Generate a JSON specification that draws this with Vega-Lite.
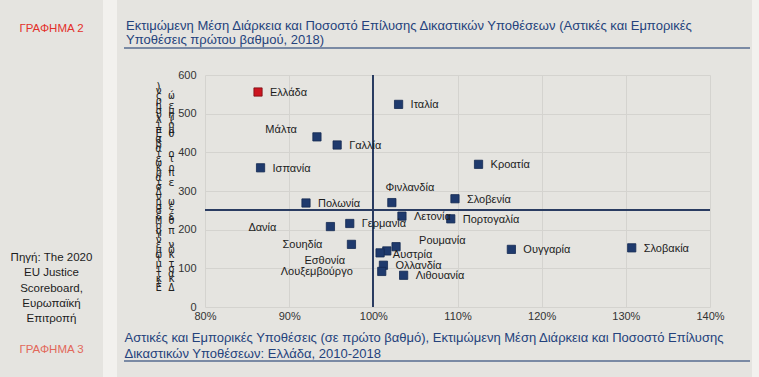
{
  "$schema": "https://vega.github.io/schema/vega-lite/v6.json",
  "background": "#e5e4e0",
  "padding": 0,
  "spacing": 7,
  "config": {
    "view": {"stroke": null},
    "font": "Liberation Sans",
    "axis": {"labelFont": "Liberation Sans", "titleFont": "Liberation Sans"}
  },
  "datasets": {
    "countries": [
      {"country": "Ελλάδα", "rate": 0.863, "days": 556, "lab": "r"},
      {"country": "Ιταλία", "rate": 1.030, "days": 524, "lab": "r"},
      {"country": "Μάλτα", "rate": 0.933, "days": 440, "lab": "lt"},
      {"country": "Γαλλία", "rate": 0.957, "days": 419, "lab": "r"},
      {"country": "Ισπανία", "rate": 0.866, "days": 360, "lab": "r"},
      {"country": "Κροατία", "rate": 1.125, "days": 369, "lab": "r"},
      {"country": "Φινλανδία", "rate": 1.022, "days": 270, "lab": "t"},
      {"country": "Σλοβενία", "rate": 1.097, "days": 280, "lab": "r"},
      {"country": "Πολωνία", "rate": 0.920, "days": 269, "lab": "r"},
      {"country": "Λετονία", "rate": 1.034, "days": 235, "lab": "r"},
      {"country": "Πορτογαλία", "rate": 1.092, "days": 228, "lab": "r"},
      {"country": "Γερμανία", "rate": 0.972, "days": 216, "lab": "r"},
      {"country": "Δανία", "rate": 0.949, "days": 208, "lab": "fl"},
      {"country": "Σουηδία", "rate": 0.974, "days": 162, "lab": "l"},
      {"country": "Ρουμανία", "rate": 1.027, "days": 156, "lab": "rt"},
      {"country": "Ουγγαρία", "rate": 1.164, "days": 149, "lab": "r"},
      {"country": "Σλοβακία", "rate": 1.307, "days": 153, "lab": "r"},
      {"country": "Αυστρία", "rate": 1.016, "days": 145, "lab": "rb"},
      {"country": "Εσθονία", "rate": 1.008, "days": 140, "lab": "lb"},
      {"country": "Ολλανδία", "rate": 1.012, "days": 108, "lab": "r"},
      {"country": "Λουξεμβούργο", "rate": 1.010, "days": 92, "lab": "l"},
      {"country": "Λιθουανία", "rate": 1.036, "days": 82, "lab": "r"}
    ],
    "leftText": [
      {"slot": 0, "text": "ΓΡΑΦΗΜΑ 2", "kind": "current"},
      {"slot": 15, "text": "Πηγή: The 2020", "kind": "source"},
      {"slot": 16, "text": "EU Justice", "kind": "source"},
      {"slot": 17, "text": "Scoreboard,", "kind": "source"},
      {"slot": 18, "text": "Ευρωπαϊκή", "kind": "source"},
      {"slot": 19, "text": "Επιτροπή", "kind": "source"},
      {"slot": 21, "text": "ΓΡΑΦΗΜΑ 3", "kind": "next"}
    ],
    "none": []
  },
  "hconcat": [
    {
      "spacing": 0,
      "hconcat": [
        {
          "width": 103,
          "height": 377,
          "data": {"name": "leftText"},
          "mark": {"type": "text", "font": "Liberation Sans", "fontSize": 11.5, "baseline": "middle", "align": "center"},
          "encoding": {
            "y": {"field": "slot", "type": "quantitative", "scale": {"domain": [-1.9, 22.79], "reverse": true, "zero": false, "nice": false}, "axis": null},
            "text": {"field": "text"},
            "color": {"field": "kind", "type": "nominal", "scale": {"domain": ["current", "source", "next"], "range": ["#e3302b", "#1c1c1c", "#e2685a"]}, "legend": null}
          }
        },
        {
          "width": 14,
          "height": 377,
          "data": {"name": "none"},
          "mark": {"type": "rule"},
          "encoding": {},
          "view": {"fill": "#f2f1ee", "stroke": null}
        }
      ]
    },
    {
      "spacing": 2,
      "hconcat": [
        {
          "spacing": 0,
          "vconcat": [
            {
              "width": 626,
              "height": 1,
              "data": {"name": "none"},
              "mark": {"type": "rule"},
              "encoding": {},
              "title": {
                "text": ["Εκτιμώμενη Μέση Διάρκεια και Ποσοστό Επίλυσης Δικαστικών Υποθέσεων (Αστικές και Εμπορικές", "Υποθέσεις πρώτου βαθμού, 2018)"],
                "orient": "bottom",
                "anchor": "start",
                "frame": "group",
                "font": "Liberation Sans",
                "fontSize": 13,
                "fontWeight": "normal",
                "color": "#24427c",
                "lineHeight": 14,
                "offset": 19,
                "dx": 2
              }
            },
            {
              "width": 626,
              "height": 2,
              "data": {"name": "none"},
              "mark": {"type": "rule"},
              "encoding": {},
              "view": {"fill": "#7a8aa4", "stroke": null}
            },
            {
              "width": 586,
              "height": 232,
              "data": {"name": "countries"},
              "title": {"text": "\u00a0", "fontSize": 10, "offset": 10, "anchor": "start"},
              "layer": [
                {
                  "mark": {"type": "square", "size": 68, "filled": true, "opacity": 1, "strokeWidth": 0.8},
                  "encoding": {
                    "x": {
                      "field": "rate",
                      "type": "quantitative",
                      "scale": {"domain": [0.8, 1.4], "range": [81, 586], "nice": false, "zero": false},
                      "axis": {
                        "values": [0.8, 0.9, 1.0, 1.1, 1.2, 1.3, 1.4],
                        "format": ".0%",
                        "grid": true,
                        "gridColor": "#d4d3cf",
                        "domain": false,
                        "ticks": false,
                        "labelFlush": false,
                        "labelOverlap": false,
                        "labelPadding": 3,
                        "labelFontSize": 11,
                        "labelColor": "#333333",
                        "title": ["Αστικές και Εμπορικές Υποθέσεις (σε πρώτο βαθμό), Εκτιμώμενη Μέση Διάρκεια και Ποσοστό Επίλυσης", "Δικαστικών Υποθέσεων: Ελλάδα, 2010-2018"],
                        "titleX": 0,
                        "titleY": 24,
                        "titleAlign": "left",
                        "titleAnchor": "start",
                        "titleBaseline": "top",
                        "titleFontSize": 13,
                        "titleFontWeight": "normal",
                        "titleColor": "#24427c",
                        "titleLineHeight": 16
                      }
                    },
                    "y": {
                      "field": "days",
                      "type": "quantitative",
                      "scale": {"domain": [0, 600], "nice": false, "zero": false},
                      "axis": {
                        "values": [0, 100, 200, 300, 400, 500, 600],
                        "tickCount": 7,
                        "offset": -81,
                        "grid": true,
                        "gridColor": "#d4d3cf",
                        "domain": false,
                        "ticks": false,
                        "labelOverlap": false,
                        "labelPadding": 9,
                        "labelFontSize": 11,
                        "labelColor": "#333333",
                        "title": ["\u00a0\u00a0)", "\u00a0\u00a0ν", "ς\u00a0ώ", "\u00a0\u00a0ρ", "η\u00a0ε", "σ\u00a0μ", "υ\u00a0η", "λ\u00a0(", "\u00a0", "ί\u00a0ό", "π\u00a0μ", "Ε\u00a0θ", "\u00a0\u00a0α", "\u00a0\u00a0β", "α", "ι\u00a0ο", "ε\u00a0τ", "\u00a0\u00a0ώ", "κ\u00a0ρ", "ρ\u00a0π", "ά", "ι\u00a0ε", "\u00a0\u00a0σ", "Δ", "\u00a0\u00a0ν", "η\u00a0ω", "σ\u00a0ε", "\u00a0\u00a0σ", "έ\u00a0έ", "Μ\u00a0θ", "\u00a0\u00a0ο", "η\u00a0π", "\u00a0\u00a0Υ", "ν", "ε\u00a0ν", "μ\u00a0ώ", "ώ\u00a0κ", "\u00a0\u00a0ι", "μ\u00a0τ", "ι\u00a0σ", "τ\u00a0α", "κ\u00a0κ", "\u00a0\u00a0ι", "Ε\u00a0Δ"],
                        "titleAngle": 0,
                        "titleX": -50,
                        "titleY": 6,
                        "titleAlign": "left",
                        "titleBaseline": "top",
                        "titleFont": "DejaVu Sans Mono",
                        "titleFontSize": 10.5,
                        "titleFontWeight": "normal",
                        "titleColor": "#222222",
                        "titleLineHeight": 4.8
                      }
                    },
                    "color": {"condition": {"test": "datum.country === 'Ελλάδα'", "value": "#cc1520"}, "value": "#1f3a6d"},
                    "stroke": {"condition": {"test": "datum.country === 'Ελλάδα'", "value": "#7a0d12"}, "value": "#142a52"}
                  }
                },
                {
                  "mark": {"type": "rule", "color": "#2b3d62", "strokeWidth": 1.3},
                  "encoding": {"x": {"datum": 1.0}}
                },
                {
                  "mark": {"type": "rule", "color": "#2b3d62", "strokeWidth": 1.3},
                  "encoding": {"x": {"datum": 0.8}, "x2": {"datum": 1.4}, "y": {"datum": 251}}
                },
                {
                  "transform": [{"filter": "datum.lab === 'r'"}],
                  "mark": {"type": "text", "align": "left", "baseline": "middle", "dx": 12, "dy": 1, "fontSize": 11, "font": "Liberation Sans", "color": "#1c1c1c"},
                  "encoding": {"x": {"field": "rate", "type": "quantitative"}, "y": {"field": "days", "type": "quantitative"}, "text": {"field": "country"}}
                },
                {
                  "transform": [{"filter": "datum.lab === 'l'"}],
                  "mark": {"type": "text", "align": "right", "baseline": "middle", "dx": -29, "dy": 1, "fontSize": 11, "font": "Liberation Sans", "color": "#1c1c1c"},
                  "encoding": {"x": {"field": "rate", "type": "quantitative"}, "y": {"field": "days", "type": "quantitative"}, "text": {"field": "country"}}
                },
                {
                  "transform": [{"filter": "datum.lab === 'lb'"}],
                  "mark": {"type": "text", "align": "right", "baseline": "middle", "dx": -35, "dy": 8, "fontSize": 11, "font": "Liberation Sans", "color": "#1c1c1c"},
                  "encoding": {"x": {"field": "rate", "type": "quantitative"}, "y": {"field": "days", "type": "quantitative"}, "text": {"field": "country"}}
                },
                {
                  "transform": [{"filter": "datum.lab === 'fl'"}],
                  "mark": {"type": "text", "align": "right", "baseline": "middle", "dx": -54, "dy": 1, "fontSize": 11, "font": "Liberation Sans", "color": "#1c1c1c"},
                  "encoding": {"x": {"field": "rate", "type": "quantitative"}, "y": {"field": "days", "type": "quantitative"}, "text": {"field": "country"}}
                },
                {
                  "transform": [{"filter": "datum.lab === 'lt'"}],
                  "mark": {"type": "text", "align": "right", "baseline": "middle", "dx": -20, "dy": -7, "fontSize": 11, "font": "Liberation Sans", "color": "#1c1c1c"},
                  "encoding": {"x": {"field": "rate", "type": "quantitative"}, "y": {"field": "days", "type": "quantitative"}, "text": {"field": "country"}}
                },
                {
                  "transform": [{"filter": "datum.lab === 't'"}],
                  "mark": {"type": "text", "align": "center", "baseline": "middle", "dx": 18, "dy": -15, "fontSize": 11, "font": "Liberation Sans", "color": "#1c1c1c"},
                  "encoding": {"x": {"field": "rate", "type": "quantitative"}, "y": {"field": "days", "type": "quantitative"}, "text": {"field": "country"}}
                },
                {
                  "transform": [{"filter": "datum.lab === 'rt'"}],
                  "mark": {"type": "text", "align": "left", "baseline": "middle", "dx": 23, "dy": -6, "fontSize": 11, "font": "Liberation Sans", "color": "#1c1c1c"},
                  "encoding": {"x": {"field": "rate", "type": "quantitative"}, "y": {"field": "days", "type": "quantitative"}, "text": {"field": "country"}}
                },
                {
                  "transform": [{"filter": "datum.lab === 'rb'"}],
                  "mark": {"type": "text", "align": "left", "baseline": "middle", "dx": 6, "dy": 4, "fontSize": 11, "font": "Liberation Sans", "color": "#1c1c1c"},
                  "encoding": {"x": {"field": "rate", "type": "quantitative"}, "y": {"field": "days", "type": "quantitative"}, "text": {"field": "country"}}
                }
              ]
            },
            {
              "width": 626,
              "height": 2,
              "data": {"name": "none"},
              "mark": {"type": "rule"},
              "encoding": {},
              "view": {"fill": "#7a8aa4", "stroke": null}
            }
          ]
        },
        {
          "width": 10,
          "height": 377,
          "data": {"name": "none"},
          "mark": {"type": "rule"},
          "encoding": {},
          "view": {"fill": "#f2f1ee", "stroke": null}
        }
      ]
    }
  ]
}
